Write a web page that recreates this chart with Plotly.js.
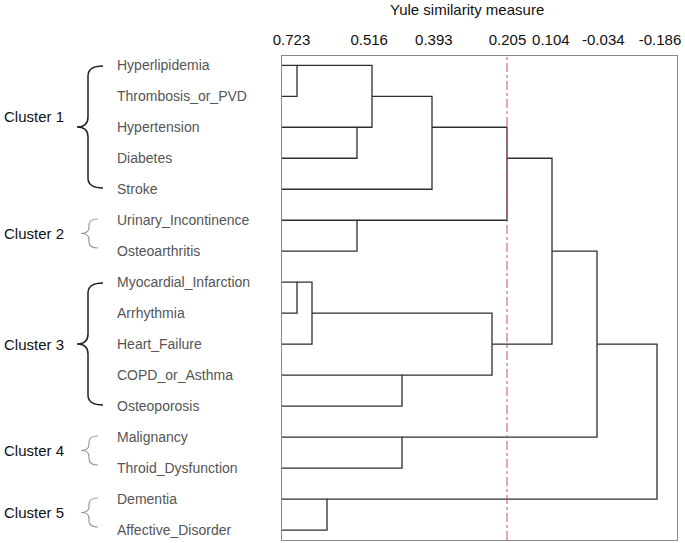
<!DOCTYPE html>
<html>
<head>
<meta charset="utf-8">
<script src="https://cdn.plot.ly/plotly-3.0.1.min.js"></script>
<style>
  body { margin: 0; background: #fff; }
  #chart { width: 685px; height: 543px; }
</style>
</head>
<body>
<div id="chart"></div>
<script>
// Leaves, top to bottom
const leaves = ['Hyperlipidemia', 'Thrombosis_or_PVD', 'Hypertension', 'Diabetes', 'Stroke',
    'Urinary_Incontinence', 'Osteoarthritis',
    'Myocardial_Infarction', 'Arrhythmia', 'Heart_Failure', 'COPD_or_Asthma', 'Osteoporosis',
    'Malignancy', 'Throid_Dysfunction',
    'Dementia', 'Affective_Disorder'];

// hclust-style merge table: negative = leaf (1-based), positive = earlier merge
const mergeLeft  = [-1, -3, 1,  3, -6, 4, -8,  7, -11,  8,  6, -13, 11, -15, 13];
const mergeRight = [-2, -4, 2, -5, -7, 5, -9, -10, -12, 9, 10, -14, 12, -16, 14];
// rescaled distance (0-25) of each merge
const mergeHeight = [1, 5, 6, 10, 5, 15, 1, 2, 8, 14, 18, 8, 21, 3, 25];

const cutHeight = 15;   // red dash-dot line (Yule = 0.205)

const tickLabels = ['0.723', '0.516', '0.393', '0.205', '0.104', '-0.034', '-0.186'];

const clusterNames = ['Cluster 1', 'Cluster 2', 'Cluster 3', 'Cluster 4', 'Cluster 5'];
const clusterFirst = [0, 5, 7, 12, 14];
const clusterLast  = [4, 6, 11, 13, 15];

// --- build the dendrogram segments (SPSS style: node sits on a leaf row) ---
const nodeX = [], nodeY = [];
const segX = [], segY = [];
function child(c) {
    if (c < 0) return {x: 0, y: -c - 1};
    return {x: nodeX[c - 1], y: nodeY[c - 1]};
}
mergeHeight.forEach((h, i) => {
    const a = child(mergeLeft[i]);
    const b = child(mergeRight[i]);
    segX.push(a.x, h, h, b.x, null);
    segY.push(a.y, a.y, b.y, b.y, null);
    nodeX.push(h);
    nodeY.push(Math.floor((a.y + b.y) / 2));
});

// plot box in pixels
const L = 282, R = 677, T = 56, B = 540;
const px2paperX = p => (p - L) / (R - L);
const px2paperY = p => (B - p) / (B - T);
const rowPx = i => 65 + 31 * i;

const FONT = 'Liberation Sans, Arial, sans-serif';

const annotations = [];
leaves.forEach((name, i) => {
    annotations.push({
        text: name, xref: 'paper', yref: 'y', x: px2paperX(115), y: i,
        xanchor: 'left', yanchor: 'middle', showarrow: false,
        font: {family: FONT, size: 14, color: '#555'}
    });
});

const shapes = [];
clusterNames.forEach((name, k) => {
    const big = clusterLast[k] - clusterFirst[k] >= 4;
    const top = rowPx(clusterFirst[k]) + (big ? 1 : -1);
    const bot = rowPx(clusterLast[k]) - (big ? 1 : 3);
    const mid = (top + bot) / 2;
    const hx = big ? 103 : 98, sx = big ? 88 : 89, tx = big ? 77 : 81, r = big ? 10 : 6;
    const P = (x, y) => px2paperX(x).toFixed(5) + ',' + px2paperY(y).toFixed(5);
    const path = 'M' + P(hx, top) + ' Q' + P(sx, top) + ' ' + P(sx, top + r) +
        ' L' + P(sx, mid - r) + ' Q' + P(sx, mid) + ' ' + P(tx, mid) +
        ' Q' + P(sx, mid) + ' ' + P(sx, mid + r) +
        ' L' + P(sx, bot - r) + ' Q' + P(sx, bot) + ' ' + P(hx, bot);
    shapes.push({
        type: 'path', xref: 'paper', yref: 'paper', path: path,
        line: {color: big ? '#222' : '#999', width: big ? 1.5 : 1.2}
    });
    annotations.push({
        text: name, xref: 'paper', yref: 'paper',
        x: px2paperX(2), y: px2paperY(big && k === 0 ? 117 : mid),
        xanchor: 'left', yanchor: 'middle', showarrow: false,
        font: {family: FONT, size: 15, color: '#111'}
    });
});

// axis title
annotations.push({
    text: 'Yule similarity measure', xref: 'paper', yref: 'paper',
    x: px2paperX(467), y: px2paperY(10), xanchor: 'center', yanchor: 'middle',
    showarrow: false, font: {family: FONT, size: 15, color: '#111'}
});

// cut line
shapes.push({
    type: 'line', xref: 'x', yref: 'paper', x0: cutHeight, x1: cutHeight, y0: 0, y1: 1,
    line: {color: '#c8505a', width: 1, dash: 'dashdot'}
});

Plotly.newPlot('chart', [{
    x: segX,
    y: segY,
    mode: 'lines',
    line: {color: '#2e2e2e', width: 1.3},
    hoverinfo: 'skip',
    showlegend: false
}], {
    width: 685,
    height: 543,
    margin: {l: L, r: 685 - R, t: T, b: 543 - B},
    paper_bgcolor: '#fff',
    plot_bgcolor: '#fff',
    xaxis: {
        range: [0, (R - L) / 15],
        side: 'top',
        tickvals: [0.63, 5.81, 10.12, 15.03, 17.92, 21.42, 25.2],
        ticktext: tickLabels,
        ticks: '',
        ticklabelstandoff: 4,
        showgrid: false, zeroline: false,
        showline: true, mirror: true, linecolor: '#888', linewidth: 1,
        tickfont: {family: FONT, size: 15, color: '#111'}
    },
    yaxis: {
        range: [15.32, -0.3],
        showticklabels: false, ticks: '',
        showgrid: false, zeroline: false,
        showline: true, mirror: true, linecolor: '#888', linewidth: 1
    },
    annotations: annotations,
    shapes: shapes,
    showlegend: false
}, {displayModeBar: false, staticPlot: true});
</script>
</body>
</html>
